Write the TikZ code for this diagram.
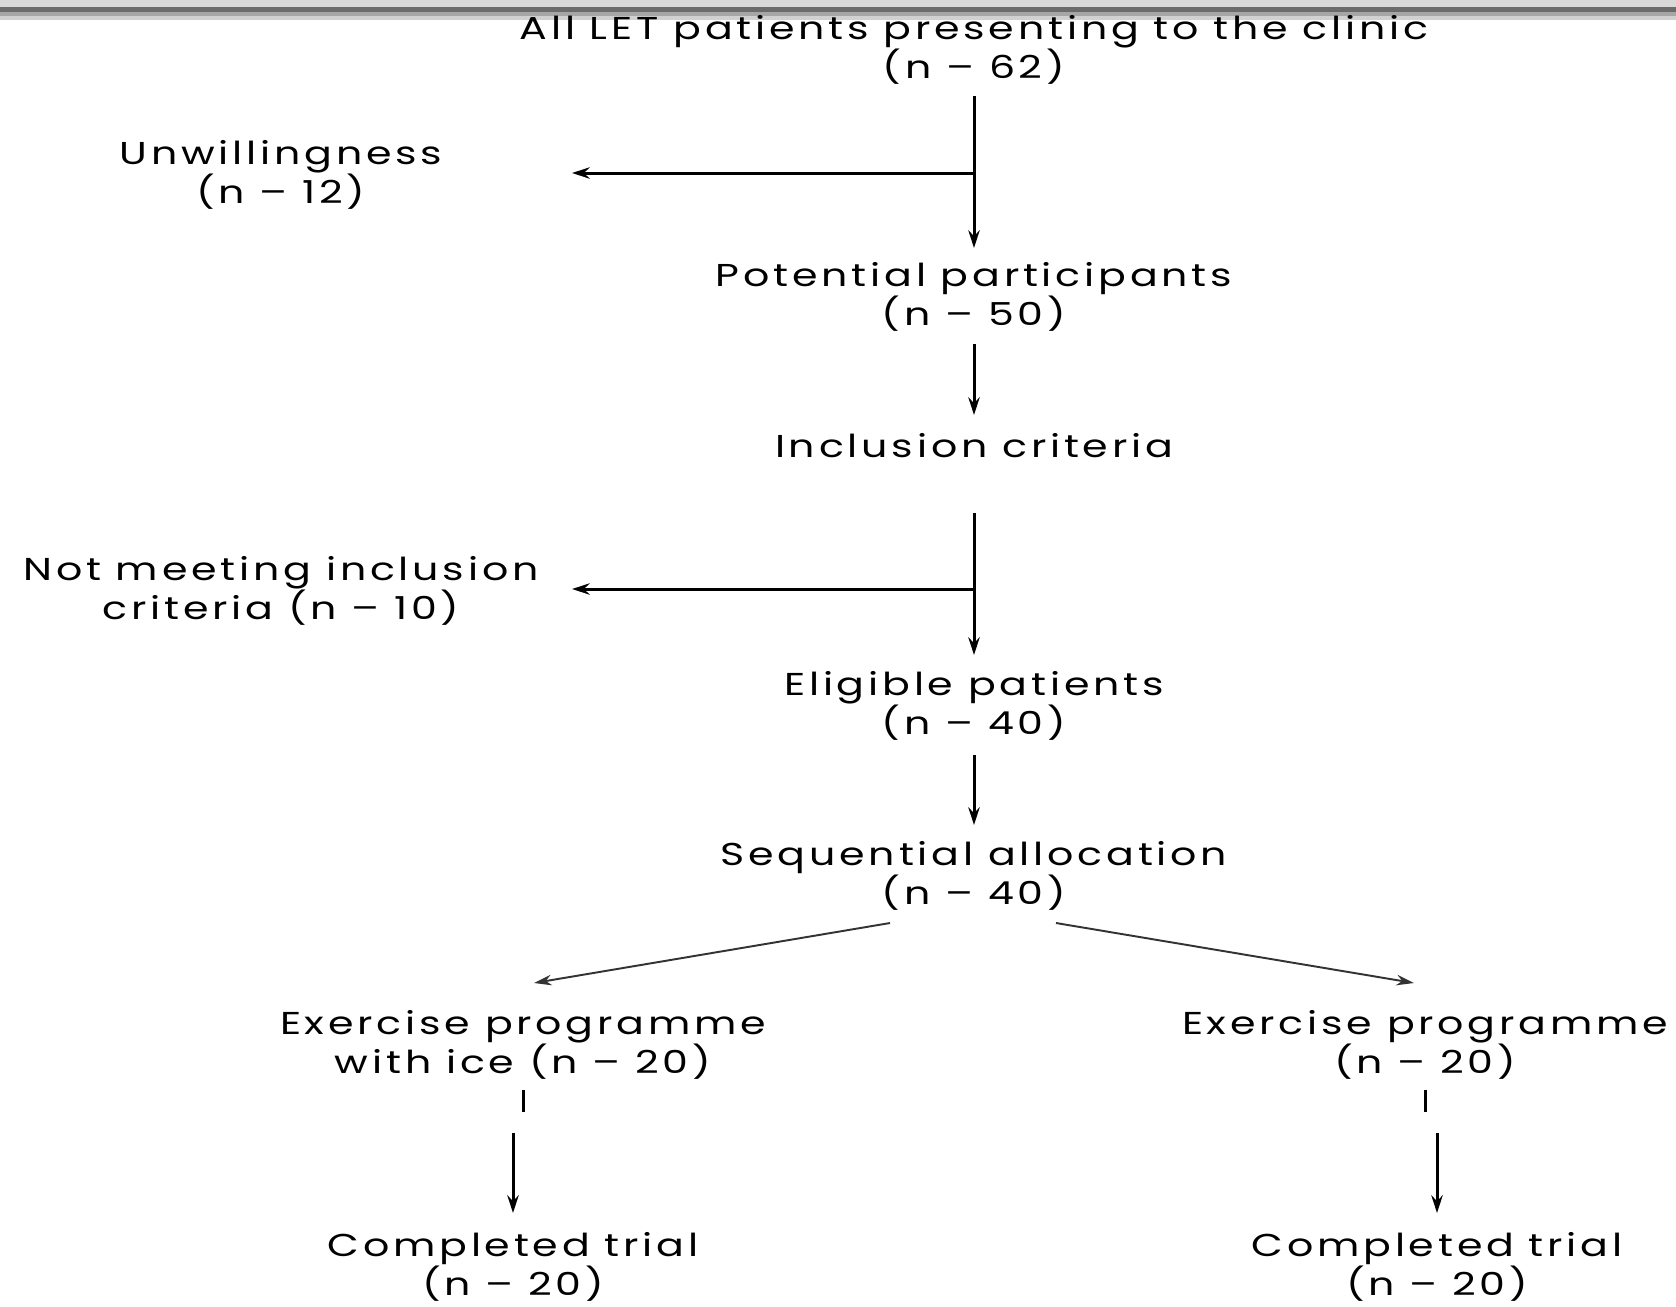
\documentclass[tikz,border=0pt]{standalone}
\usepackage{fontspec}
\setmainfont{Poppins}[FakeStretch=1.3,LetterSpace=12]
\usetikzlibrary{arrows.meta}

\tikzset{
  lbl/.style={align=center, inner sep=0pt, font={\fontsize{9}{11.3}\selectfont\lineskiplimit=-20pt}},
  arr/.style={line width=0.85pt, -{Stealth[length=5pt,width=3.2pt]}},
  diag/.style={line width=0.55pt, black!80, -{Stealth[length=5pt,width=3pt]}},
}

\begin{document}
\begin{tikzpicture}[x=0.1mm,y=-0.1mm]
    % Frame
    \useasboundingbox (0,0) rectangle (1676,1306);
    \fill[black!15] (0,0) rectangle (1676,7);
    \fill[black!58] (0,7) rectangle (1676,12);
    \fill[black!35] (0,12) rectangle (1676,16);
    \fill[black!18] (0,16) rectangle (1676,20);

    % Nodes
    \node[lbl] (all)    at (974,50)   {All LET patients presenting to the clinic\\(n – 62)};
    \node[lbl] (unw)    at (281,175)  {Unwillingness\\(n – 12)};
    \node[lbl] (pot)    at (974,297)  {Potential participants\\(n – 50)};
    \node[lbl] (incl)   at (974,446)  {Inclusion criteria};
    \node[lbl] (notin)  at (281,591)  {Not meeting inclusion\\criteria (n – 10)};
    \node[lbl] (elig)   at (974,706)  {Eligible patients\\(n – 40)};
    \node[lbl] (seq)    at (974,876)  {Sequential allocation\\(n – 40)};
    \node[lbl] (exice)  at (523,1045) {Exercise programme\\with ice (n – 20)};
    \node[lbl] (ex)     at (1425,1045){Exercise programme\\(n – 20)};
    \node[lbl] (compl)  at (513,1267) {Completed trial\\(n – 20)};
    \node[lbl] (compr)  at (1437,1267){Completed trial\\(n – 20)};

    % Coordinates
    \coordinate (j1) at (974,173);
    \coordinate (j2) at (974,589);
    \coordinate (sl) at (890,923);
    \coordinate (el) at (534,983);
    \coordinate (sr) at (1056,923);
    \coordinate (er) at (1414,983);
    \coordinate (tl) at (523,1090);
    \coordinate (tr) at (1425,1090);
    \coordinate (al) at (513,1133);
    \coordinate (ar) at (1437,1133);

    % Arrows
    \draw[arr, shorten <=4.6mm, shorten >=4.9mm] (all.center) -- (pot.center);
    \draw[arr, shorten >=29.1mm] (j1) -- (unw.center |- j1);
    \draw[arr, shorten <=4.7mm, shorten >=3.1mm] (pot.center) -- (incl.center);
    \draw[arr, shorten <=6.7mm, shorten >=5.1mm] (incl.center) -- (elig.center);
    \draw[arr, shorten >=29.1mm] (j2) -- (notin.center |- j2);
    \draw[arr, shorten <=4.9mm, shorten >=5.1mm] (elig.center) -- (seq.center);
    \draw[diag] (sl) -- (el);
    \draw[diag] (sr) -- (er);
    \draw[line width=0.85pt] (tl) -- ++(0,22);
    \draw[line width=0.85pt] (tr) -- ++(0,22);
    \draw[arr, shorten >=5.4mm] (al) -- (compl.center);
    \draw[arr, shorten >=5.4mm] (ar) -- (compr.center);

\end{tikzpicture}
\end{document}
